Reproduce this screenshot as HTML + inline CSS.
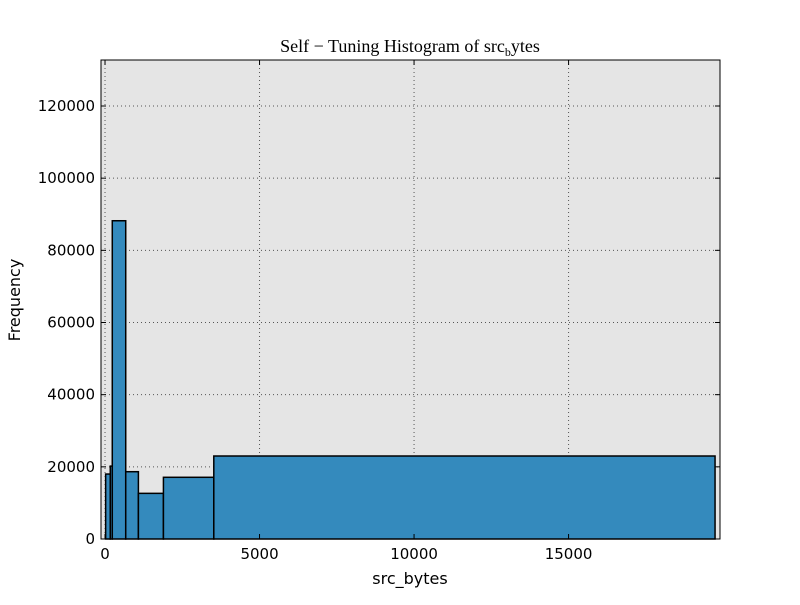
<!DOCTYPE html>
<html><head><meta charset="utf-8"><style>
body{margin:0;background:#fff}
svg text{font-family:"DejaVu Sans","Liberation Sans",sans-serif;font-size:15px;fill:#000}
</style></head><body>
<svg id="chart" width="800" height="600">
<rect x="0" y="0" width="800" height="600" fill="#fff"/>
<rect x="101" y="60" width="619" height="479" fill="#e5e5e5"/>
<g id="grid"></g>
<g id="bars"></g>
<rect x="101" y="60" width="619" height="479" fill="none" stroke="#000" stroke-width="1"/>
<g id="ticks"></g>
<text x="410" y="52" text-anchor="middle" style="font-family:'Liberation Serif',serif;font-size:18px">Self − Tuning Histogram of src<tspan font-size="12" dy="4">b</tspan><tspan dy="-4">ytes</tspan></text>
<text x="410" y="584" text-anchor="middle" style="font-size:16px">src_bytes</text>
<text x="20" y="300" text-anchor="middle" transform="rotate(-90 20 300)" style="font-size:16px">Frequency</text>
</svg>
<script>
const binEdges=[20,170,235,670,1080,1890,3520,19740];
const counts=[18000,20200,88200,18650,12650,17100,23000];
const xTicks=[0,5000,10000,15000];
const yTicks=[0,20000,40000,60000,80000,100000,120000];
const X0=101,X1=720,Y0=539,Y1=60,xMin=-130,xMax=19900,yMax=132750;
const sx=v=>X0+(v-xMin)/(xMax-xMin)*(X1-X0);
const sy=v=>Y0-v/yMax*(Y0-Y1);
const NS="http://www.w3.org/2000/svg";
function mk(tag,attrs,parent){const e=document.createElementNS(NS,tag);for(const k in attrs)e.setAttribute(k,attrs[k]);parent.appendChild(e);return e;}
const grid=document.getElementById('grid'),bars=document.getElementById('bars'),ticks=document.getElementById('ticks');
counts.forEach((c,i)=>{
 const x=sx(binEdges[i]),w=sx(binEdges[i+1])-x,y=sy(c);
 const r=mk('rect',{x:x,y:y,width:w,height:Y0-y,fill:'#348abd',stroke:'#000','stroke-width':1.5},bars);
 
 
});
xTicks.forEach(t=>{
 const x=sx(t);
 const g=mk('line',{x1:x,x2:x,y1:Y1,y2:Y0,stroke:'#555','stroke-dasharray':'1,3'},grid);
 
 
 mk('line',{x1:x,x2:x,y1:Y0,y2:Y0-5,stroke:'#000'},ticks);
 mk('line',{x1:x,x2:x,y1:Y1,y2:Y1+5,stroke:'#000'},ticks);
 const l=mk('text',{x:x,y:Y0+20,'text-anchor':'middle'},ticks);
 l.textContent=t;
 
 
});
yTicks.forEach(t=>{
 const y=sy(t);
 const g=mk('line',{x1:X0,x2:X1,y1:y,y2:y,stroke:'#555','stroke-dasharray':'1,3'},grid);
 
 
 mk('line',{x1:X0,x2:X0+5,y1:y,y2:y,stroke:'#000'},ticks);
 mk('line',{x1:X1,x2:X1-5,y1:y,y2:y,stroke:'#000'},ticks);
 const l=mk('text',{x:X0-6,y:y+5,'text-anchor':'end'},ticks);
 l.textContent=t;
 
 
});
</script>
</body></html>
